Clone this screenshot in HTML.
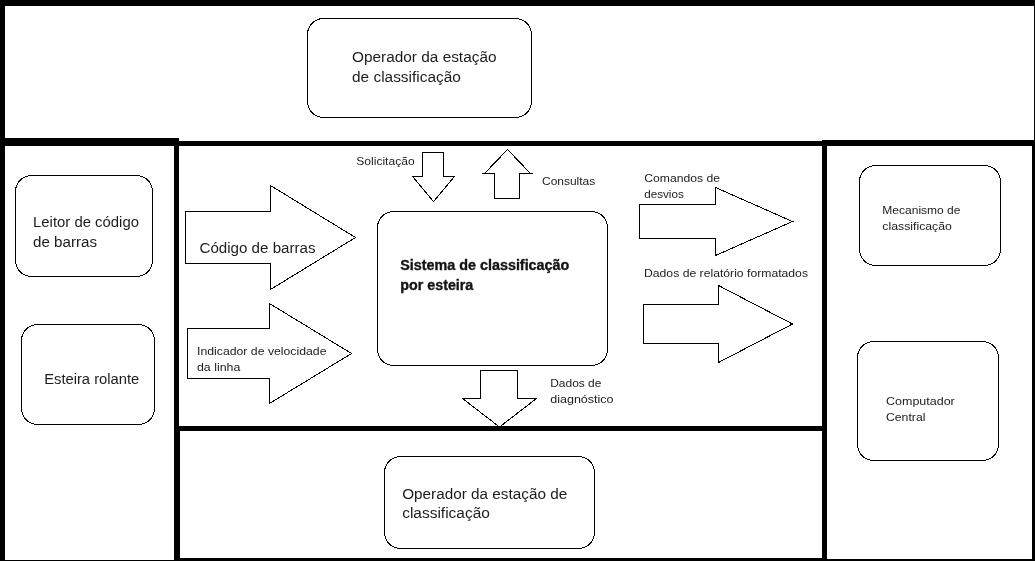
<!DOCTYPE html>
<html>
<head>
<meta charset="utf-8">
<style>
html,body{margin:0;padding:0;background:#fff;}
body{width:1035px;height:561px;overflow:hidden;position:relative;}
svg{position:absolute;left:0;top:0;display:block;will-change:transform;}
text{font-family:"Liberation Sans",sans-serif;fill:#1c1c1c;}
.t14{font-size:14px;}
.t11{font-size:11px;}
.b{font-weight:bold;fill:#141414;stroke:#141414;stroke-width:0.35px;}
</style>
</head>
<body>
<svg width="1035" height="561" viewBox="0 0 1035 561">
<!-- thick frame lines -->
<g fill="#000">
  <rect x="0" y="0" width="1035" height="6"/>
  <rect x="0" y="0" width="5" height="561"/>
  <rect x="1034" y="0" width="1" height="141"/>
  <rect x="1032" y="140" width="3" height="421"/>
  <rect x="0" y="138" width="179" height="8"/>
  <rect x="179" y="141" width="643" height="5"/>
  <rect x="822" y="140" width="213" height="6"/>
  <rect x="174" y="138" width="5" height="423"/>
  <rect x="174" y="426" width="6" height="135"/>
  <rect x="822" y="140" width="5" height="421"/>
  <rect x="174" y="426" width="653" height="5"/>
  <rect x="180" y="558" width="642" height="3"/>
  <rect x="827" y="559" width="208" height="2"/>
  <rect x="0" y="560" width="174" height="1"/>
</g>
<!-- rounded boxes -->
<g fill="none" stroke="#000" stroke-width="1" shape-rendering="crispEdges">
  <rect x="307.5" y="18.5" width="224" height="99" rx="16"/>
  <rect x="15.5" y="175.5" width="137" height="101" rx="16"/>
  <rect x="21.5" y="324.5" width="133" height="100" rx="16"/>
  <rect x="377.5" y="211.5" width="230" height="154" rx="16"/>
  <rect x="859.5" y="165.5" width="141" height="100" rx="16"/>
  <rect x="857.5" y="341.5" width="141" height="119" rx="16"/>
  <rect x="384.5" y="456.5" width="210" height="92" rx="16"/>
</g>
<!-- arrows -->
<g fill="none" stroke="#000" stroke-width="1" stroke-linejoin="miter" shape-rendering="crispEdges">
  <polygon points="185.5,211.5 270.5,211.5 270.5,185.5 355.5,237.5 270.5,289.5 270.5,263.5 185.5,263.5"/>
  <polygon points="187.5,328.5 269.5,328.5 269.5,303.5 351.5,353.5 269.5,403.5 269.5,378.5 187.5,378.5"/>
  <polygon points="422.5,152.5 443.5,152.5 443.5,176.5 454.5,176.5 433.5,201.5 412.5,176.5 422.5,176.5"/>
  <polygon points="494.5,198.5 494.5,173.5 484.5,173.5 507.5,149.5 530.5,173.5 519.5,173.5 519.5,198.5"/>
  <path d="M482 173.5H495M519 173.5H533"/>
  <polygon points="639.5,204.5 715.5,204.5 715.5,187.5 792.5,221.5 715.5,255.5 715.5,238.5 639.5,238.5"/>
  <polygon points="643.5,304.5 718.5,304.5 718.5,285.5 792.5,324 718.5,362.5 718.5,343.5 643.5,343.5"/>
  <polygon points="480.5,370.5 517.5,370.5 517.5,398.5 536.5,398.5 499.5,427 462.5,398.5 480.5,398.5"/>
</g>
<!-- texts -->
<text class="t14" x="352" y="62" textLength="144.5" lengthAdjust="spacingAndGlyphs">Operador da estação</text>
<text class="t14" x="352" y="81.7" textLength="108.8" lengthAdjust="spacingAndGlyphs">de classificação</text>

<text class="t14" x="33" y="227" textLength="106" lengthAdjust="spacingAndGlyphs">Leitor de código</text>
<text class="t14" x="33" y="247" textLength="64" lengthAdjust="spacingAndGlyphs">de barras</text>

<text class="t14" x="44.2" y="384" textLength="95" lengthAdjust="spacingAndGlyphs">Esteira rolante</text>

<text class="t14" x="199.5" y="252.8" textLength="116" lengthAdjust="spacingAndGlyphs">Código de barras</text>

<text class="t11" x="197" y="355.3" textLength="129.5" lengthAdjust="spacingAndGlyphs">Indicador de velocidade</text>
<text class="t11" x="197" y="371" textLength="43.3" lengthAdjust="spacingAndGlyphs">da linha</text>

<text class="t11" x="356.3" y="165" textLength="58.3" lengthAdjust="spacingAndGlyphs">Solicitação</text>
<text class="t11" x="542" y="185" textLength="53.2" lengthAdjust="spacingAndGlyphs">Consultas</text>

<text class="t14 b" x="400.3" y="270" textLength="169" lengthAdjust="spacingAndGlyphs">Sistema de classificação</text>
<text class="t14 b" x="400.3" y="289.7" textLength="73" lengthAdjust="spacingAndGlyphs">por esteira</text>

<text class="t11" x="644.2" y="182.3" textLength="75.8" lengthAdjust="spacingAndGlyphs">Comandos de</text>
<text class="t11" x="644.2" y="198" textLength="39.6" lengthAdjust="spacingAndGlyphs">desvios</text>

<text class="t11" x="644" y="277.1" textLength="164" lengthAdjust="spacingAndGlyphs">Dados de relatório formatados</text>

<text class="t11" x="550.2" y="387" textLength="51.2" lengthAdjust="spacingAndGlyphs">Dados de</text>
<text class="t11" x="550.2" y="402.6" textLength="63.4" lengthAdjust="spacingAndGlyphs">diagnóstico</text>

<text class="t11" x="882.3" y="214.2" textLength="78.2" lengthAdjust="spacingAndGlyphs">Mecanismo de</text>
<text class="t11" x="882.3" y="229.9" textLength="69.6" lengthAdjust="spacingAndGlyphs">classificação</text>

<text class="t11" x="886" y="405.4" textLength="68.8" lengthAdjust="spacingAndGlyphs">Computador</text>
<text class="t11" x="886" y="421.4" textLength="39.4" lengthAdjust="spacingAndGlyphs">Central</text>

<text class="t14" x="402.2" y="498.5" textLength="165" lengthAdjust="spacingAndGlyphs">Operador da estação de</text>
<text class="t14" x="402.2" y="517.8" textLength="87.7" lengthAdjust="spacingAndGlyphs">classificação</text>
</svg>
</body>
</html>
